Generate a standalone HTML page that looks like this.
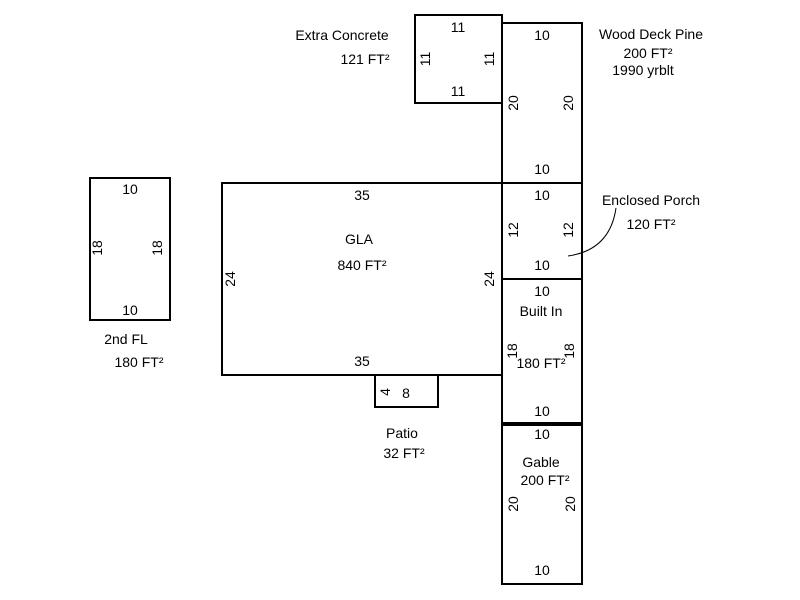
<!DOCTYPE html>
<html><head><style>body{margin:0;background:#fff}svg{display:block}</style></head><body>
<svg width="800" height="600" xmlns="http://www.w3.org/2000/svg" font-family="Liberation Sans, Arial, sans-serif" font-size="14" fill="#000">
<g fill="none" stroke="#000" stroke-width="2">
<rect x="415" y="15" width="87" height="88"/>
<rect x="502" y="23" width="80" height="160"/>
<rect x="502" y="183" width="80" height="96"/>
<rect x="502" y="279" width="80" height="144"/>
<rect x="502" y="425" width="80" height="159"/>
<rect x="222" y="183" width="280" height="192"/>
<rect x="375" y="375" width="63" height="32"/>
<rect x="90" y="178" width="80" height="142"/>
<path d="M568 256 Q610 250 616 208" stroke-width="1"/>
</g>
<g text-anchor="middle">
<text x="458" y="32">11</text><text x="458" y="96">11</text>
<text transform="translate(430,59) rotate(-90)">11</text>
<text transform="translate(494,59) rotate(-90)">11</text>
<text x="342" y="40">Extra Concrete</text><text x="365" y="64">121 FT²</text>
<text x="542" y="40">10</text><text x="542" y="174">10</text>
<text transform="translate(518,103) rotate(-90)">20</text>
<text transform="translate(573,103) rotate(-90)">20</text>
<text x="651" y="39">Wood Deck Pine</text><text x="648" y="58">200 FT²</text><text x="643" y="75">1990 yrblt</text>
<text x="542" y="200">10</text><text x="542" y="270">10</text>
<text transform="translate(518,230) rotate(-90)">12</text>
<text transform="translate(573,230) rotate(-90)">12</text>
<text x="651" y="205">Enclosed Porch</text><text x="651" y="229">120 FT²</text>
<text x="542" y="296">10</text><text x="541" y="316">Built In</text>
<text transform="translate(517,351) rotate(-90)">18</text>
<text transform="translate(574,351) rotate(-90)">18</text>
<text x="541" y="368">180 FT²</text><text x="542" y="416">10</text>
<text x="542" y="439">10</text><text x="541" y="467">Gable</text><text x="545" y="485">200 FT²</text>
<text transform="translate(518,504) rotate(-90)">20</text>
<text transform="translate(575,504) rotate(-90)">20</text>
<text x="542" y="575">10</text>
<text x="362" y="200">35</text><text x="362" y="366">35</text>
<text x="359" y="244">GLA</text><text x="362" y="270">840 FT²</text>
<text transform="translate(235,279) rotate(-90)">24</text>
<text transform="translate(494,279) rotate(-90)">24</text>
<text transform="translate(390,392) rotate(-90)">4</text>
<text x="406" y="398">8</text>
<text x="402" y="438">Patio</text><text x="404" y="458">32 FT²</text>
<text x="130" y="194">10</text><text x="130" y="315">10</text>
<text transform="translate(102,248) rotate(-90)">18</text>
<text transform="translate(162,248) rotate(-90)">18</text>
<text x="126" y="344">2nd FL</text><text x="139" y="367">180 FT²</text>
</g>
</svg>
</body></html>
